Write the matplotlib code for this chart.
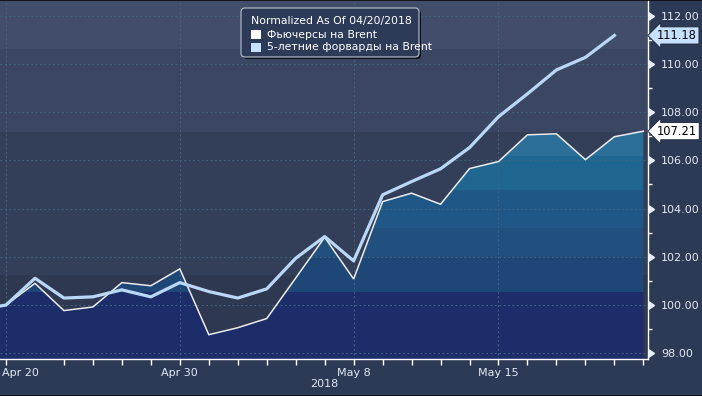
import matplotlib
matplotlib.use('Agg')
import matplotlib.pyplot as plt
import matplotlib.transforms as mtransforms
from matplotlib.patches import FancyBboxPatch, Rectangle
from matplotlib.lines import Line2D
import numpy as np

# ---------------- data ----------------
dates = ['Apr 19', 'Apr 20', 'Apr 23', 'Apr 24', 'Apr 25', 'Apr 26', 'Apr 27', 'Apr 30',
         'May 1', 'May 2', 'May 3', 'May 4', 'May 7', 'May 8', 'May 9', 'May 10',
         'May 11', 'May 14', 'May 15', 'May 16', 'May 17', 'May 18', 'May 21', 'May 22']
futures = [99.80, 100.00, 100.90, 99.77, 99.92, 100.93, 100.80, 101.50,
           98.77, 99.06, 99.44, 101.12, 102.81, 101.08, 104.29, 104.64,
           104.18, 105.66, 105.95, 107.06, 107.10, 106.03, 106.98, 107.21]
forwards = [99.80, 100.00, 101.11, 100.29, 100.34, 100.63, 100.34, 100.93,
            100.56, 100.29, 100.67, 101.94, 102.84, 101.83, 104.57, 105.12,
            105.65, 106.53, 107.81, 108.76, 109.75, 110.27, 111.18, np.nan]
major_labels = ['Apr 20', 'Apr 30', 'May 8', 'May 15']
y_ticks = [98, 100, 102, 104, 106, 108, 110, 112]
legend_title = 'Normalized As Of 04/20/2018'
series_names = ['Фьючерсы на Brent', '5-летние форварды на Brent']
year_label = '2018'

# ---------------- style ----------------
FIG_BG = '#2c3a55'
TXT = '#e3e9f3'
WHITE_LINE = '#ececec'
BLUE_LINE = '#b9d8f7'
GRID = '#3f6480'
bg_bands = [(90, 101.25, '#2e3850'), (101.25, 107.18, '#333e58'),
            (107.18, 110.62, '#3b4662'), (110.62, 120, '#414d69')]
fill_bands = [(90, 100.54, '#1c2d69'), (100.54, 102.0, '#1e4677'),
              (102.0, 103.2, '#22507e'), (103.2, 104.77, '#1f5886'),
              (104.77, 106.18, '#1f6690'), (106.18, 120, '#2b6e97')]

W, H = 702, 396
fig = plt.figure(figsize=(W / 100, H / 100), dpi=100)
fig.patch.set_facecolor(FIG_BG)
ax = fig.add_axes([0, (H - 359.3) / H, 648 / W, 359.3 / H])
ax.set_facecolor(FIG_BG)

x = np.arange(len(dates)) - 1  # Apr 20 -> 0
fut = np.array(futures)
fwd = np.array(forwards)

# background bands
for lo, hi, c in bg_bands:
    ax.axhspan(lo, hi, color=c, zorder=0.1, lw=0)

# banded area under futures line
area = ax.fill_between(x, fut, 90, color='none', lw=0, zorder=0.2)
clip_path = area.get_paths()[0]
for lo, hi, c in fill_bands:
    r = ax.axhspan(lo, hi, color=c, zorder=0.5, lw=0)
    r.set_clip_path(clip_path, ax.transData)

# grid
ax.set_axisbelow(False)
ax.grid(True, which='major', color=GRID, lw=0.7, ls=(0, (2, 2.5)), zorder=2)

# lines
ax.plot(x, fut, color=WHITE_LINE, lw=1.1, zorder=3, solid_joinstyle='miter')
ax.plot(x, fwd, color=BLUE_LINE, lw=2.3, zorder=4)

ax.set_xlim(-6 / 28.97, (648 - 6) / 28.97)
ax.set_ylim(97.75, 112.65)

# spines
for s in ['left', 'top']:
    ax.spines[s].set_visible(False)
for s in ['bottom', 'right']:
    ax.spines[s].set_color('white')
    ax.spines[s].set_linewidth(1.0)

# x ticks
major_pos = [dates.index(d) - 1 for d in major_labels]
ax.set_xticks(major_pos)
ax.set_xticklabels(major_labels)
minor_pos = [i for i in x if i >= 0 and i not in major_pos and i != 1]
ax.set_xticks(minor_pos, minor=True)
ax.tick_params(axis='x', which='both', direction='out', length=4, width=1,
               color='white', labelcolor=TXT, labelsize=8, pad=2)
ax.grid(True, axis='x', which='major', color=GRID, lw=0.7, ls=(0, (2, 2.5)))
lbls = ax.get_xticklabels()
lbls[0].set_horizontalalignment('left')
lbls[0].set_transform(lbls[0].get_transform() +
                      mtransforms.ScaledTranslation(-4 / 100, 0, fig.dpi_scale_trans))
ax.set_xlabel(year_label, color=TXT, fontsize=8, labelpad=1)

# y ticks on right
ax.yaxis.tick_right()
ax.set_yticks(y_ticks)
ax.set_yticklabels([f'{v:.2f}' for v in y_ticks])
ax.set_yticks([v + 1 for v in y_ticks[:-1]], minor=True)
ax.tick_params(axis='y', which='major', length=0, pad=9.5, labelcolor=TXT, labelsize=8)
ax.tick_params(axis='y', which='minor', direction='out', length=3, width=1, color='white')
ax.tick_params(axis='y', which='both', left=False, labelleft=False)
ax.plot(np.ones(len(y_ticks)), y_ticks, transform=ax.get_yaxis_transform(),
        ls='none', marker=9, ms=6, color='#e8eef8', clip_on=False, zorder=5)

# last-value labels
off = mtransforms.ScaledTranslation(9 / 100, 0, fig.dpi_scale_trans)
last_fwd = fwd[~np.isnan(fwd)][-1]
last_fut = fut[-1]
ax.text(1.0, last_fwd, f'{last_fwd:.2f}', transform=ax.get_yaxis_transform() + off,
        ha='left', va='center', fontsize=8.3, color='black', clip_on=False,
        bbox=dict(boxstyle='larrow,pad=0.18', fc='#c6e0ff', ec='#1a2233', lw=0.6))
ax.text(1.0, last_fut, f'{last_fut:.2f}', transform=ax.get_yaxis_transform() + off,
        ha='left', va='center', fontsize=8.3, color='black', clip_on=False,
        bbox=dict(boxstyle='larrow,pad=0.18', fc='white', ec='#1a2233', lw=0.6))

# legend (manual, pixel coords)
ident = mtransforms.IdentityTransform()
def P(px, py):
    return (px, H - py)

bx0, by0, bx1, by1 = 241, 8, 419, 57
shadow = FancyBboxPatch(P(bx0 + 2, by1 + 2), bx1 - bx0, by1 - by0,
                        boxstyle='round,pad=0,rounding_size=4', transform=ident,
                        fc='#0b0f18', ec='none', zorder=10)
box = FancyBboxPatch(P(bx0, by1), bx1 - bx0, by1 - by0,
                     boxstyle='round,pad=0,rounding_size=4', transform=ident,
                     fc='#2d3b58', ec='#aab3c4', lw=0.9, zorder=11)
fig.patches.extend([shadow, box])
fig.patches.append(Rectangle(P(251, 39), 10, 9, transform=ident, fc='white', ec='none', zorder=12))
fig.patches.append(Rectangle(P(251, 51.5), 10, 9, transform=ident, fc='#c6e0ff', ec='none', zorder=12))
fig.text(*P(331, 21), legend_title, transform=ident, ha='center', va='center',
         color='white', fontsize=7.8, zorder=13)
fig.text(*P(267, 35), series_names[0], transform=ident, ha='left', va='center',
         color='white', fontsize=7.8, zorder=13)
fig.text(*P(267, 47.5), series_names[1], transform=ident, ha='left', va='center',
         color='white', fontsize=7.8, zorder=13)

# thin dark frame lines at top and bottom
fig.add_artist(Line2D([0, 1], [0.999, 0.999], transform=fig.transFigure, color='#0a0a0a', lw=1.2))
fig.add_artist(Line2D([0, 1], [0.001, 0.001], transform=fig.transFigure, color='#0a0a0a', lw=1.2))

fig.savefig('out.png', dpi=100, facecolor=FIG_BG)
